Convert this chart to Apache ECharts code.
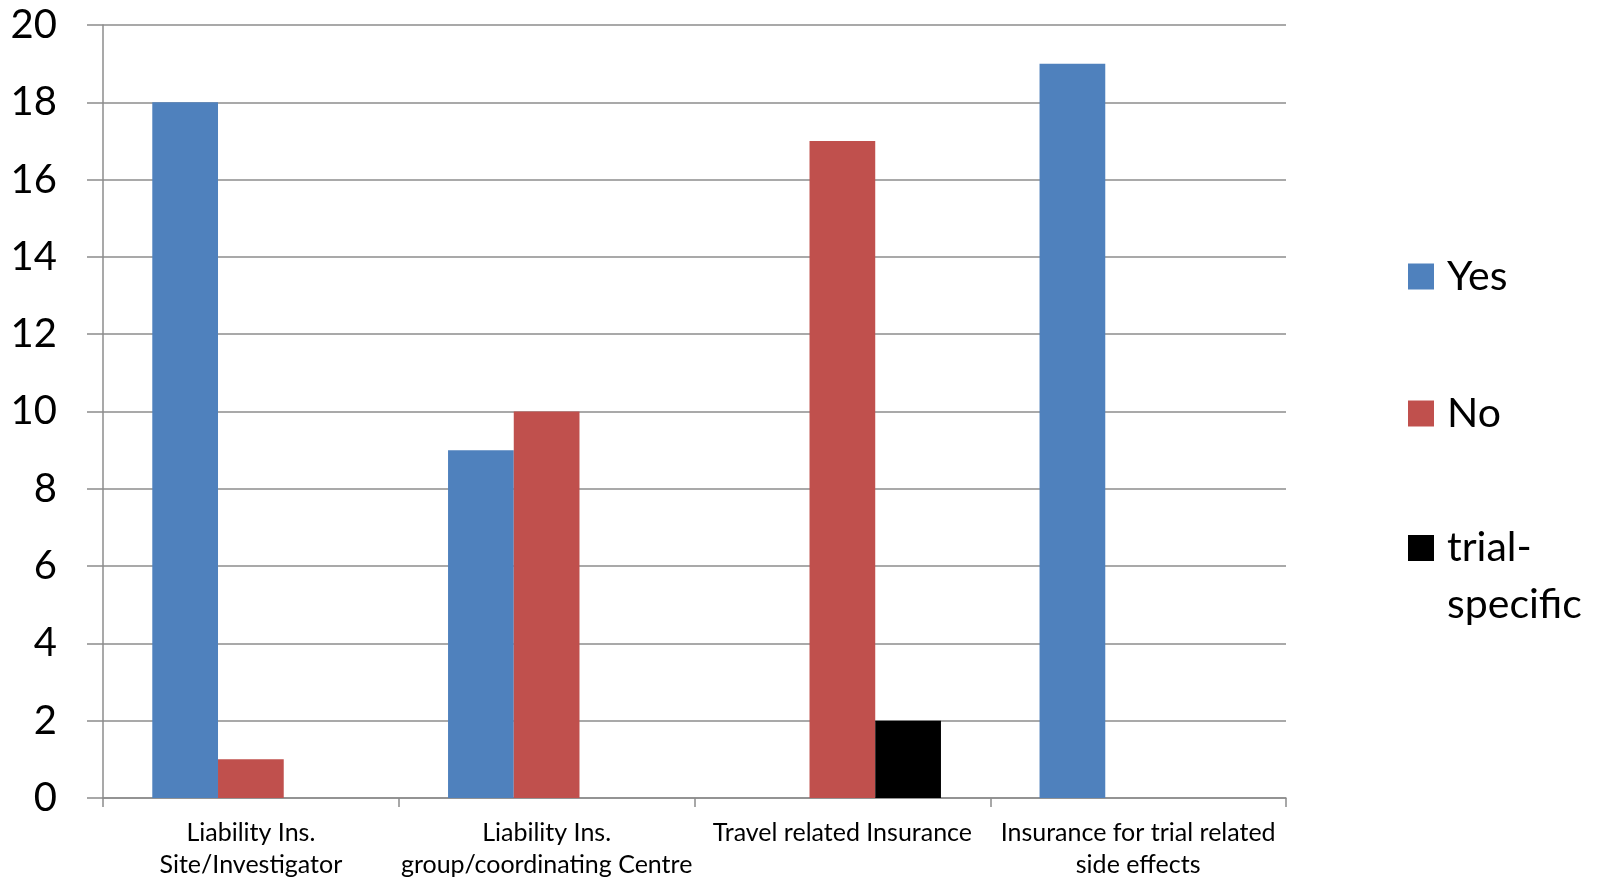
<!DOCTYPE html>
<html>
<head>
<meta charset="utf-8">
<title>Insurance coverage</title>
<script src="https://cdn.jsdelivr.net/npm/echarts@6/dist/echarts.min.js"></script>
<style>
  html, body { margin: 0; padding: 0; background: #ffffff; overflow: hidden; }
  #chart { width: 1600px; height: 878px; }
</style>
</head>
<body>
<div id="chart"></div>
<script>
// Insurance types (x-axis categories)
const categories = [
  'Liability Ins.\nSite/Investigator',
  'Liability Ins.\ngroup/coordinating Centre',
  'Travel related Insurance',
  'Insurance for trial related\nside effects'
];

// Number of answers per series
const yesValues = [18, 9, 0, 19];
const noValues = [1, 10, 17, 0];
const trialSpecificValues = [0, 0, 2, 0];

const seriesNames = ['Yes', 'No', 'trial-specific'];
const seriesColors = ['#4F81BD', '#C0504D', '#000000'];

// Value-axis ticks
const yMin = 0;
const yMax = 20;
const yStep = 2;

const FONT = 'Lato, "Open Sans", sans-serif';
const GRID_GRAY = '#8c8c8c';
const LINE_W = 1.5;

const chart = echarts.init(document.getElementById('chart'), null, { renderer: 'canvas' });

// One legend block per series so each entry can be placed on its own row;
// the wrapped entry gets a leading empty line so its first line sits beside the swatch.
function legendFor(name, top) {
  return {
    data: [name],
    orient: 'vertical',
    left: 1408,
    top: top,
    padding: 0,
    icon: 'rect',
    itemWidth: 26,
    itemHeight: 26,
    selectedMode: false,
    formatter: function (n) { return n === 'trial-specific' ? ' \ntrial-\nspecific' : n; },
    textStyle: {
      fontFamily: FONT,
      fontSize: 41,
      lineHeight: 57,
      color: '#000',
      padding: [0, 0, 0, 8]
    }
  };
}

const option = {
  backgroundColor: '#ffffff',
  animation: false,
  grid: {
    left: 103,
    right: 314,
    top: 25,
    bottom: 80,
    containLabel: false,
    outerBoundsMode: 'none'
  },
  legend: [
    legendFor('Yes', 248),
    legendFor('No', 385),
    legendFor('trial-specific', 462.5)
  ],
  xAxis: {
    type: 'category',
    data: categories,
    axisLine: { show: true, lineStyle: { color: GRID_GRAY, width: LINE_W } },
    axisTick: { show: true, length: 9, alignWithLabel: false, lineStyle: { color: GRID_GRAY, width: LINE_W } },
    axisLabel: {
      interval: 0,
      margin: 19,
      fontFamily: FONT,
      fontSize: 25,
      lineHeight: 32,
      color: '#000'
    },
    splitLine: { show: false }
  },
  yAxis: {
    type: 'value',
    min: yMin,
    max: yMax,
    interval: yStep,
    axisLine: { show: true, lineStyle: { color: GRID_GRAY, width: LINE_W } },
    axisTick: { show: true, length: 16, lineStyle: { color: GRID_GRAY, width: LINE_W } },
    axisLabel: {
      margin: 46,
      fontFamily: FONT,
      fontSize: 40,
      color: '#000'
    },
    splitLine: { show: true, lineStyle: { color: GRID_GRAY, width: LINE_W } }
  },
  series: [
    { name: seriesNames[0], type: 'bar', data: yesValues, itemStyle: { color: seriesColors[0] }, barGap: '0%', barCategoryGap: '33.33%' },
    { name: seriesNames[1], type: 'bar', data: noValues, itemStyle: { color: seriesColors[1] }, barGap: '0%', barCategoryGap: '33.33%' },
    { name: seriesNames[2], type: 'bar', data: trialSpecificValues, itemStyle: { color: seriesColors[2] }, barGap: '0%', barCategoryGap: '33.33%' }
  ]
};

chart.setOption(option);
</script>
</body>
</html>
